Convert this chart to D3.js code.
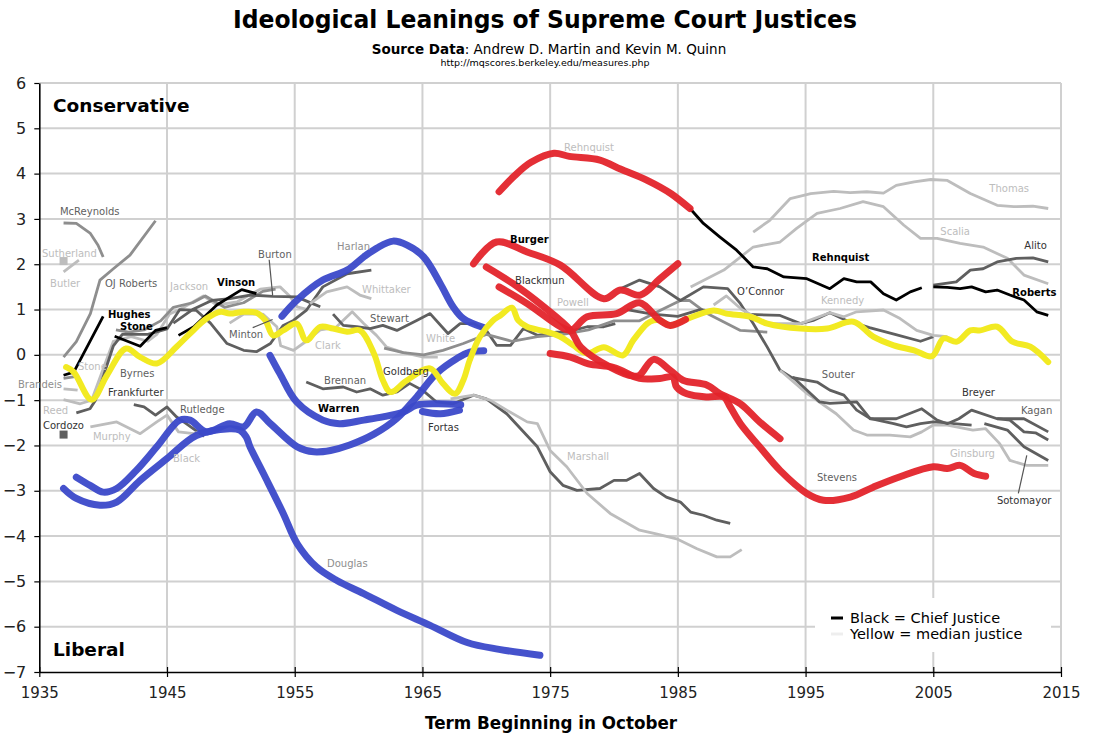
<!DOCTYPE html>
<html>
<head>
<meta charset="utf-8">
<script src="https://cdn.jsdelivr.net/npm/d3@7/dist/d3.min.js"></script>
<style>
  body { margin: 0; background: #fff; }
  text { font-family: "DejaVu Sans", Verdana, sans-serif; }
</style>
</head>
<body>
<svg id="chart" width="1094" height="738"></svg>
<script>
// ideology scores: [term year, score]
const mcReynolds = [[1936.9,2.91],[1937.9,2.9],[1939,2.68],[1939.6,2.42],[1940,2.16]];
const butler = [[1936.9,1.83],[1938.1,2.09]];
const ojRoberts = [[1936.9,-0.05],[1937.9,0.29],[1939,0.91],[1939.75,1.65],[1940.8,1.9],[1942.1,2.2],[1944.1,2.96]];
const brandeis = [[1936.9,-0.75],[1938,-0.78]];
const stoneAssoc = [[1936.9,-0.52],[1937.8,-0.48]];
const reed = [[1936.9,-0.99],[1938.2,-1.08],[1939.1,-1.0],[1940.8,0.3],[1942.2,0.4],[1943.5,0.3],[1944.2,0.45],[1945.2,0.9],[1946,1.0],[1947.85,1.3],[1948.9,1.1],[1950.5,1.17],[1952.3,1.45],[1953.85,1.5],[1954.6,1.3],[1955.2,1.06],[1956,1.0]];
const frankfurter = [[1937.9,-1.28],[1938.97,-1.19],[1939.4,-1.0],[1940.8,0.2],[1941.5,0.45],[1943.5,0.45],[1945,0.57],[1946,1.0],[1947.3,0.98],[1948.4,0.7],[1949.7,0.25],[1951,0.1],[1952,0.07],[1953.1,0.25],[1954.1,0.65],[1954.9,0.76],[1955.9,0.98],[1957.2,1.5],[1959.1,1.79],[1961,1.87]];
const jackson = [[1941,0.55],[1942,0.5],[1943.2,0.55],[1944.5,0.75],[1945.5,1.05],[1947,1.15],[1948,1.3],[1949.5,1.05],[1951,1.15],[1952.5,1.4],[1953.5,1.45]];
const rutledge = [[1942.4,-1.1],[1943.2,-1.15],[1944.1,-1.33],[1945,-1.15],[1945.75,-1.37],[1946.5,-1.52],[1947.9,-1.8]];
const murphy = [[1939,-1.59],[1941.06,-1.48],[1942.9,-1.74],[1944.2,-1.48],[1945,-1.33],[1945.9,-1.7],[1947.1,-1.74],[1947.85,-1.66]];
const burton = [[1945.5,0.7],[1947,1.0],[1948.5,1.2],[1949.93,1.24],[1951.5,1.32],[1953.3,1.29],[1955.15,1.28],[1956.4,1.13],[1957,1.06]];
const clark = [[1949.9,0.7],[1951,0.9],[1952.5,0.9],[1953.6,0.62],[1953.9,0.2],[1954.9,0.1],[1955.9,0.3],[1957,0.55],[1958.2,0.6],[1959.5,0.95],[1960.4,0.69],[1961.4,0.43],[1962.2,0.17],[1963.5,0.05],[1965.1,-0.05],[1966.2,-0.05]];
const whittaker = [[1956.2,1.13],[1957.5,1.39],[1959.1,1.5],[1960.1,1.32],[1961,1.24]];
const stewart = [[1958,0.9],[1958.8,0.65],[1959.85,0.62],[1960.9,0.58],[1961.9,0.65],[1963,0.54],[1964.55,0.76],[1965.6,0.91],[1967,0.47],[1967.95,0.69],[1969,0.69],[1970,0.54],[1970.8,0.21],[1971.9,0.21],[1972.9,0.58],[1974,0.43],[1975.5,0.5],[1976.3,0.5],[1977.9,0.62],[1979.2,0.62],[1980.1,0.69]];
const white = [[1962,0.15],[1963.5,0.05],[1965.1,0.0],[1966.6,0.1],[1968.2,0.25],[1970,0.45],[1972,0.3],[1974,0.4],[1976,0.45],[1978,0.55],[1980,0.75],[1982,0.75],[1983.6,0.98],[1985.2,1.2],[1985.9,1.2],[1987.3,0.91],[1989.9,0.54],[1992,0.5]];
const brennan = [[1955.9,-0.6],[1957.2,-0.75],[1958.8,-0.71],[1959.85,-0.82],[1960.9,-0.75],[1961.9,-0.89],[1963,-0.82],[1964,-0.63],[1965.1,-0.8],[1966.1,-1.04],[1967.4,-1.08],[1969,-0.89],[1970,-0.97],[1971.6,-1.3],[1974,-2.03],[1975,-2.58],[1976,-2.88],[1977.1,-2.99],[1978.9,-2.95],[1980,-2.77],[1981,-2.77],[1982,-2.62],[1983.1,-2.95],[1984.1,-3.14],[1985.2,-3.25],[1986,-3.47],[1987,-3.54],[1988.05,-3.65],[1989.1,-3.72]];
const marshall = [[1967.2,-0.97],[1969,-0.89],[1970.3,-1.0],[1971.6,-1.22],[1973.2,-1.48],[1974,-1.52],[1975,-2.11],[1976.3,-2.47],[1977.9,-3.06],[1979.7,-3.5],[1982,-3.87],[1983.3,-3.95],[1984.9,-4.06],[1986.5,-4.28],[1988.05,-4.46],[1989.1,-4.46],[1990,-4.3]];
const souter = [[1980.5,1.46],[1982,1.65],[1983.6,1.5],[1985.2,1.2],[1987,1.5],[1988.9,1.46],[1989.9,1.13],[1990.9,0.69],[1992,0.17],[1993,-0.34],[1993.9,-0.5],[1995.9,-0.6],[1996.9,-0.78],[1998,-0.89],[1999,-1.22],[2000.1,-1.41],[2001.9,-1.52],[2002.9,-1.59],[2004,-1.52],[2005,-1.48],[2006.6,-1.52],[2008,-1.55]];
const oConnor = [[1981,1.0],[1983,0.9],[1985,0.85],[1986.74,1.0],[1988,0.95],[1990,0.9],[1993,0.87],[1994.6,0.69],[1995.6,0.76],[1996.9,0.93],[1998.2,0.76],[2000,0.6],[2002,0.45],[2004,0.3],[2005,0.4]];
const scalia = [[1986,1.5],[1988.6,1.87],[1990.9,2.38],[1993,2.49],[1994.3,2.79],[1995.9,3.12],[1997.7,3.23],[1999.5,3.38],[2001.1,3.27],[2002.7,2.86],[2004,2.57],[2005.3,2.57],[2007.1,2.46],[2008.9,2.38],[2010.8,2.13],[2012.1,1.76],[2014,1.57]];
const kennedy = [[1987.8,1.1],[1988.8,1.3],[1990,1.0],[1992,0.69],[1994.6,0.69],[1996.9,0.93],[1998,0.84],[1999,0.95],[2001.1,0.99],[2002.4,0.8],[2003.7,0.54],[2005,0.43],[2006.1,0.4]];
const thomas = [[1990.9,2.71],[1992.2,2.97],[1993.8,3.45],[1995.4,3.56],[1997.2,3.61],[1998.5,3.58],[1999.8,3.6],[2001.1,3.57],[2002.1,3.74],[2003.5,3.82],[2004.8,3.87],[2006.1,3.85],[2007.9,3.56],[2010,3.3],[2011.3,3.27],[2012.8,3.28],[2014,3.23]];
const ginsburg = [[1993,-0.34],[1995.1,-0.85],[1997.4,-1.3],[1998.75,-1.66],[1999.8,-1.77],[2001.6,-1.77],[2003.2,-1.81],[2004.1,-1.7],[2005,-1.55],[2006.1,-1.55],[2008.1,-1.66],[2009.1,-1.63],[2010.2,-1.96],[2011,-2.33],[2012.3,-2.44],[2014,-2.44]];
const breyer = [[1994,-0.49],[1996.1,-1.04],[1996.9,-1.07],[1999,-1.04],[2000.05,-1.41],[2002.1,-1.41],[2004.1,-1.19],[2005.3,-1.44],[2006.1,-1.52],[2007,-1.41],[2008,-1.22],[2010,-1.41],[2012.1,-1.41],[2014,-1.7]];
const alito = [[2005,1.54],[2006.8,1.61],[2007.9,1.87],[2008.9,1.9],[2010,2.05],[2011.5,2.13],[2012.8,2.14],[2014,2.05]];
const sotomayor = [[2009,-1.52],[2010.8,-1.66],[2012.1,-2.03],[2014,-2.33]];
const kagan = [[2010,-1.41],[2011,-1.44],[2012.1,-1.7],[2013,-1.72],[2014,-1.88]];

// chief justices
const hughes = [[1936.9,-0.45],[1937.7,-0.38],[1940,0.85]];
const stoneChief = [[1940.9,0.41],[1942.9,0.19],[1944.1,0.54],[1945,0.6]];
const vinson = [[1945.9,0.43],[1947.1,0.62],[1948.9,1.1],[1950.85,1.44],[1952,1.35]];
const rehnquistChief = [[1985.95,3.23],[1987,2.9],[1988.3,2.6],[1989.6,2.31],[1990.9,1.94],[1992,1.9],[1993.3,1.72],[1995.1,1.68],[1996.9,1.46],[1998,1.68],[1999,1.61],[2000.1,1.61],[2001.1,1.35],[2002.1,1.21],[2003.2,1.39],[2004.1,1.48]];
const robertsChief = [[2005,1.5],[2006.1,1.49],[2007.1,1.46],[2008,1.5],[2009.1,1.39],[2010,1.43],[2011,1.32],[2012.1,1.21],[2013.1,0.95],[2014,0.87]];

// blue
const douglas = [[1936.9,-2.95],[1937.9,-3.17],[1939.75,-3.32],[1941.06,-3.25],[1942.9,-2.77],[1945,-2.29],[1947.3,-1.78],[1949.9,-1.63],[1950.7,-1.66],[1951.2,-1.81],[1951.5,-2.03],[1952.55,-2.62],[1954.1,-3.5],[1955.2,-4.17],[1956.7,-4.68],[1958.3,-4.98],[1960.4,-5.27],[1963,-5.64],[1965.6,-5.97],[1968.5,-6.35],[1971,-6.5],[1974.2,-6.63]];
const black = [[1937.9,-2.7],[1938.97,-2.88],[1940,-3.03],[1941.06,-2.95],[1942.6,-2.55],[1944.2,-2.03],[1946,-1.44],[1946.8,-1.44],[1948.1,-1.7],[1949.9,-1.52],[1951,-1.59],[1952,-1.26],[1953.1,-1.52],[1955.2,-2.03],[1956.5,-2.14],[1957.8,-2.11],[1959.3,-1.99],[1961.2,-1.75],[1963,-1.4],[1964.55,-0.93],[1966.1,-0.41],[1967.7,-0.08],[1968.7,0.06],[1969.8,0.09]];
const warren = [[1953.06,-0.01],[1953.85,-0.42],[1955.15,-1.04],[1957.2,-1.44],[1958.5,-1.52],[1960.4,-1.44],[1961.9,-1.37],[1963.5,-1.26],[1964.55,-1.11],[1966.1,-1.08],[1968,-1.1]];
const fortas = [[1965,-1.25],[1966.4,-1.3],[1967.9,-1.22]];
const harlan = [[1954,0.85],[1955.15,1.2],[1957.2,1.65],[1959.1,1.87],[1960.4,2.16],[1961.4,2.35],[1962.7,2.51],[1963.8,2.42],[1965.1,2.16],[1966.4,1.57],[1967.4,1.06],[1968.2,0.8],[1969.8,0.6]];

// red
const rehnquist = [[1971,3.6],[1972.2,3.95],[1973.5,4.25],[1975.3,4.45],[1976.5,4.38],[1978.9,4.3],[1980.5,4.1],[1982.6,3.85],[1984.5,3.55],[1985.95,3.23]];
const burger = [[1969,2.01],[1970.8,2.49],[1973.2,2.27],[1975.8,1.98],[1979.2,1.24],[1980.5,1.43],[1982.05,1.32],[1983.6,1.68],[1985,2.01]];
const blackmun = [[1970,1.94],[1972.1,1.57],[1974.5,1.06],[1976.6,0.54],[1977.4,0.17],[1979.7,-0.27],[1981.5,-0.47],[1982,-0.45],[1983.1,-0.1],[1984.4,-0.34],[1985.4,-0.56],[1987.3,-0.67],[1988.3,-0.86],[1989.9,-1.08],[1991.4,-1.48],[1993,-1.85]];
const powell = [[1971,1.5],[1973.2,1.13],[1975.8,0.62],[1976.6,0.54],[1977.9,0.84],[1980.2,0.91],[1982,1.15],[1983.6,0.76],[1984.4,0.65],[1985.6,0.78]];
const stevens = [[1975,0.03],[1976.6,-0.05],[1978,-0.2],[1980,-0.28],[1982,-0.52],[1983.6,-0.52],[1984.6,-0.49],[1984.9,-0.71],[1985.7,-0.86],[1987.3,-0.93],[1988.6,-0.93],[1989.1,-1.15],[1989.9,-1.52],[1991.4,-2.03],[1993,-2.55],[1995.1,-3.06],[1996.4,-3.21],[1998.5,-3.14],[2000.3,-2.92],[2002.4,-2.69],[2005,-2.47],[2006.1,-2.51],[2007.1,-2.44],[2008.2,-2.62],[2009.1,-2.68]];

// median justice
const median = [[1937.1,-0.27],[1937.7,-0.38],[1939.1,-0.99],[1940.3,-0.45],[1941.8,0.14],[1942.9,-0.05],[1944.2,-0.19],[1945.75,0.18],[1946.8,0.47],[1948.1,0.8],[1949.2,0.95],[1949.9,0.91],[1951,0.95],[1952,0.93],[1952.7,0.76],[1953.3,0.43],[1954.1,0.54],[1955.15,0.69],[1955.9,0.32],[1957,0.62],[1958,0.58],[1959.1,0.51],[1960.1,0.54],[1961.2,0.03],[1961.9,-0.56],[1962.5,-0.82],[1963.8,-0.56],[1965.6,-0.3],[1966.6,-0.63],[1967.55,-0.86],[1968.2,-0.56],[1968.7,-0.12],[1969.5,0.4],[1970.5,0.75],[1971.1,0.87],[1972,1.04],[1972.5,0.76],[1973.2,0.62],[1974.7,0.51],[1975.8,0.4],[1976.8,0.21],[1977.9,0.03],[1979.2,0.17],[1980.7,-0.01],[1981.5,0.32],[1982.6,0.69],[1983.1,0.76],[1983.6,0.76],[1984.4,0.65],[1985.6,0.78],[1987.8,0.98],[1988.8,0.91],[1990.7,0.84],[1992,0.69],[1994.6,0.58],[1996.7,0.58],[1998.75,0.73],[2000.3,0.4],[2001.9,0.21],[2003.5,0.1],[2004.9,-0.03],[2005.8,0.36],[2006.85,0.29],[2007.9,0.54],[2008.7,0.54],[2010,0.62],[2011.2,0.29],[2012.6,0.18],[2014,-0.16]];

// single-term justices drawn as squares
const singleTerms = [["Sutherland", 1936.9, 2.07, "light"], ["Cordozo", 1936.9, -1.76, "dark"]];

// which series, in which shade, drawing order
const grayLines = [
  [mcReynolds, "mid"], [butler, "light"], [ojRoberts, "mid"], [brandeis, "light"], [stoneAssoc, "mid"],
  [reed, "light"], [jackson, "mid"], [frankfurter, "dark"], [rutledge, "dark"], [murphy, "light"],
  [burton, "dark"], [clark, "light"], [whittaker, "light"], [stewart, "dark"], [white, "mid"],
  [brennan, "dark"], [marshall, "light"], [souter, "dark"], [oConnor, "dark"], [scalia, "light"],
  [kennedy, "light"], [thomas, "light"], [ginsburg, "light"], [breyer, "dark"], [alito, "dark"],
  [sotomayor, "dark"], [kagan, "dark"]
];
const chiefLines = [hughes, stoneChief, vinson, rehnquistChief, robertsChief];
const blueLines = [douglas, black, warren, fortas, harlan];
const redLines = [rehnquist, burger, blackmun, powell, stevens];

// name labels: text, year, score at the text baseline start, shade, bold
const labels = [
  ["McReynolds", 1936.62, 3.08, "dark", false], ["Sutherland", 1935.21, 2.16, "light", false],
  ["Butler", 1935.84, 1.49, "light", false], ["OJ Roberts", 1940.14, 1.49, "dark", false],
  ["Hughes", 1940.38, 0.81, "black", true], ["Stone", 1941.32, 0.54, "black", true],
  ["Stone", 1938.03, -0.34, "light", false], ["Brandeis", 1933.33, -0.74, "mid", false],
  ["Byrnes", 1941.32, -0.49, "dark", false], ["Frankfurter", 1940.38, -0.91, "ink", false],
  ["Reed", 1935.29, -1.31, "light", false], ["Cordozo", 1935.29, -1.64, "ink", false],
  ["Murphy", 1939.2, -1.89, "light", false], ["Rutledge", 1946.02, -1.29, "dark", false],
  ["Black", 1945.47, -2.37, "light", false], ["Jackson", 1945.24, 1.43, "light", false],
  ["Vinson", 1948.92, 1.51, "black", true], ["Burton", 1952.13, 2.13, "dark", false],
  ["Minton", 1949.86, 0.37, "dark", false], ["Harlan", 1958.31, 2.31, "mid", false],
  ["Whittaker", 1960.27, 1.36, "light", false], ["Stewart", 1960.9, 0.72, "dark", false],
  ["Clark", 1956.59, 0.12, "light", false], ["White", 1965.28, 0.28, "light", false],
  ["Brennan", 1957.3, -0.65, "dark", false], ["Goldberg", 1961.92, -0.45, "ink", false],
  ["Warren", 1956.83, -1.27, "black", true], ["Fortas", 1965.44, -1.69, "ink", false],
  ["Douglas", 1957.53, -4.69, "mid", false], ["Marshall", 1976.32, -2.33, "light", false],
  ["Rehnquist", 1976.09, 4.5, "light", false], ["Burger", 1971.86, 2.46, "black", true],
  ["Blackmun", 1972.25, 1.56, "ink", false], ["Powell", 1975.54, 1.07, "light", false],
  ["O\u2019Connor", 1989.64, 1.31, "ink", false], ["Rehnquist", 1995.51, 2.08, "black", true],
  ["Thomas", 2009.39, 3.59, "light", false], ["Scalia", 2005.55, 2.64, "light", false],
  ["Alito", 2012.13, 2.33, "ink", false], ["Roberts", 2011.19, 1.29, "black", true],
  ["Kennedy", 1996.2, 1.12, "light", false], ["Souter", 1996.27, -0.51, "dark", false],
  ["Breyer", 2007.24, -0.91, "ink", false], ["Kagan", 2011.86, -1.31, "dark", false],
  ["Ginsburg", 2006.3, -2.26, "light", false], ["Sotomayor", 2009.98, -3.3, "ink", false],
  ["Stevens", 1995.89, -2.79, "dark", false]
];
// leader lines from a label to its series: [year1, score1, year2, score2]
const leaders = [[1953.0, 2.1, 1953.27, 1.32], [1951.71, 0.6, 1953.27, 0.78], [2012.32, -2.22, 2011.66, -3.06]];

const yearTicks = [1935, 1945, 1955, 1965, 1975, 1985, 1995, 2005, 2015];
const scoreTicks = [-7, -6, -5, -4, -3, -2, -1, 0, 1, 2, 3, 4, 5, 6];

const shade = {
  light: "#bdbdbd", mid: "#8e8e8e", dark: "#5f5f5f", ink: "#333", black: "#000",
  blue: "#3b49c9", red: "#e3242b", yellow: "#f2ea22"
};

const svg = d3.select("#chart");

const x = d3.scaleLinear().domain([1935, 2015]).range([39.3, 1061]);
const y = d3.scaleLinear().domain([-7, 6]).range([672, 83]);

// grid
svg.append("g")
  .selectAll("line")
  .data(scoreTicks.slice(1))
  .enter().append("line")
  .attr("x1", x(1935)).attr("x2", x(2015))
  .attr("y1", d => y(d)).attr("y2", d => y(d))
  .style("stroke", "#d0d0d0").style("stroke-width", 2);

svg.append("g")
  .selectAll("line")
  .data(yearTicks.slice(1))
  .enter().append("line")
  .attr("x1", d => x(d)).attr("x2", d => x(d))
  .attr("y1", y(6)).attr("y2", y(-7))
  .style("stroke", "#d0d0d0").style("stroke-width", 2);

// legend background hides the grid behind it
svg.append("rect")
  .attr("x", 815).attr("y", 598).attr("width", 236).attr("height", 54)
  .style("fill", "#fff");

// axes
const yAxis = svg.append("g")
  .attr("transform", "translate(" + x(1935) + ",0)")
  .call(d3.axisLeft(y).tickValues(scoreTicks).tickSize(5).tickSizeOuter(0).tickPadding(8));
yAxis.selectAll("text").style("font-size", "16px").style("fill", "#222");

const xAxis = svg.append("g")
  .attr("transform", "translate(0," + y(-7) + ")")
  .call(d3.axisBottom(x).tickValues(yearTicks).tickFormat(d3.format("d")).tickSize(5).tickSizeOuter(0).tickPadding(10));
xAxis.selectAll(".tick line").attr("y1", -5);
xAxis.selectAll("text").style("font-size", "15px").style("fill", "#222");

svg.selectAll(".domain").style("stroke", "#000").style("stroke-width", 1.6);
svg.selectAll(".tick line").style("stroke", "#000").style("stroke-width", 1.2);

const line = d3.line().x(d => x(d[0])).y(d => y(d[1]));
const smooth = d3.line().x(d => x(d[0])).y(d => y(d[1])).curve(d3.curveCatmullRom.alpha(0.5));

// gray justices
svg.append("g")
  .selectAll("path")
  .data(grayLines)
  .enter().append("path")
  .attr("d", d => line(d[0]))
  .style("fill", "none")
  .style("stroke", d => shade[d[1]])
  .style("stroke-width", 2.8)
  .style("stroke-linejoin", "round");

svg.append("g")
  .selectAll("rect")
  .data(singleTerms)
  .enter().append("rect")
  .attr("x", d => x(d[1]) - 4).attr("y", d => y(d[2]) - 4)
  .attr("width", 8).attr("height", 8)
  .style("fill", d => shade[d[3]]);

// chief justices
svg.append("g")
  .selectAll("path")
  .data(chiefLines)
  .enter().append("path")
  .attr("d", line)
  .style("fill", "none")
  .style("stroke", "#000")
  .style("stroke-width", 2.8)
  .style("stroke-linejoin", "round");

// liberal drift
svg.append("g")
  .selectAll("path")
  .data(blueLines)
  .enter().append("path")
  .attr("d", smooth)
  .style("fill", "none")
  .style("stroke", shade.blue)
  .style("stroke-opacity", 0.95)
  .style("stroke-width", 7)
  .style("stroke-linecap", "round")
  .style("stroke-linejoin", "round");

// median justice
svg.append("path")
  .attr("d", smooth(median))
  .style("fill", "none")
  .style("stroke", shade.yellow)
  .style("stroke-width", 6)
  .style("stroke-linecap", "round")
  .style("stroke-linejoin", "round");

// conservative
svg.append("g")
  .selectAll("path")
  .data(redLines)
  .enter().append("path")
  .attr("d", smooth)
  .style("fill", "none")
  .style("stroke", shade.red)
  .style("stroke-opacity", 0.95)
  .style("stroke-width", 7)
  .style("stroke-linecap", "round")
  .style("stroke-linejoin", "round");

// leader lines and names
svg.append("g")
  .selectAll("line")
  .data(leaders)
  .enter().append("line")
  .attr("x1", d => x(d[0])).attr("y1", d => y(d[1]))
  .attr("x2", d => x(d[2])).attr("y2", d => y(d[3]))
  .style("stroke", "#555").style("stroke-width", 1.2);

svg.append("g")
  .selectAll("text")
  .data(labels)
  .enter().append("text")
  .attr("x", d => x(d[1]))
  .attr("y", d => y(d[2]))
  .style("font-size", "10px")
  .style("font-weight", d => d[4] ? "bold" : "normal")
  .style("fill", d => shade[d[3]])
  .text(d => d[0]);

svg.append("text")
  .attr("x", 53).attr("y", 112)
  .style("font-size", "18.5px").style("font-weight", "bold")
  .text("Conservative");

svg.append("text")
  .attr("x", 53).attr("y", 656)
  .style("font-size", "18.5px").style("font-weight", "bold")
  .text("Liberal");

// titles
svg.append("text")
  .attr("x", 545).attr("y", 28)
  .attr("text-anchor", "middle")
  .attr("textLength", 624).attr("lengthAdjust", "spacingAndGlyphs")
  .style("font-size", "25px").style("font-weight", "bold")
  .text("Ideological Leanings of Supreme Court Justices");

const sub = svg.append("text")
  .attr("x", 549).attr("y", 54)
  .attr("text-anchor", "middle")
  .style("font-size", "13.5px");
sub.append("tspan").style("font-weight", "bold").text("Source Data");
sub.append("tspan").text(": Andrew D. Martin and Kevin M. Quinn");

svg.append("text")
  .attr("x", 545).attr("y", 66)
  .attr("text-anchor", "middle")
  .style("font-size", "9.5px")
  .text("http://mqscores.berkeley.edu/measures.php");

svg.append("text")
  .attr("x", 551).attr("y", 729)
  .attr("text-anchor", "middle")
  .attr("textLength", 252).attr("lengthAdjust", "spacingAndGlyphs")
  .style("font-size", "17px").style("font-weight", "bold")
  .text("Term Beginning in October");

// legend
const legend = svg.append("g");
legend.append("line")
  .attr("x1", 831).attr("x2", 843).attr("y1", 618).attr("y2", 618)
  .style("stroke", "#000").style("stroke-width", 3);
legend.append("line")
  .attr("x1", 831).attr("x2", 843).attr("y1", 634).attr("y2", 634)
  .style("stroke", "#eee").style("stroke-width", 3);
legend.append("text").attr("x", 850).attr("y", 623).style("font-size", "14.5px").text("Black = Chief Justice");
legend.append("text").attr("x", 850).attr("y", 639).style("font-size", "14.5px").text("Yellow = median justice");
</script>
</body>
</html>
